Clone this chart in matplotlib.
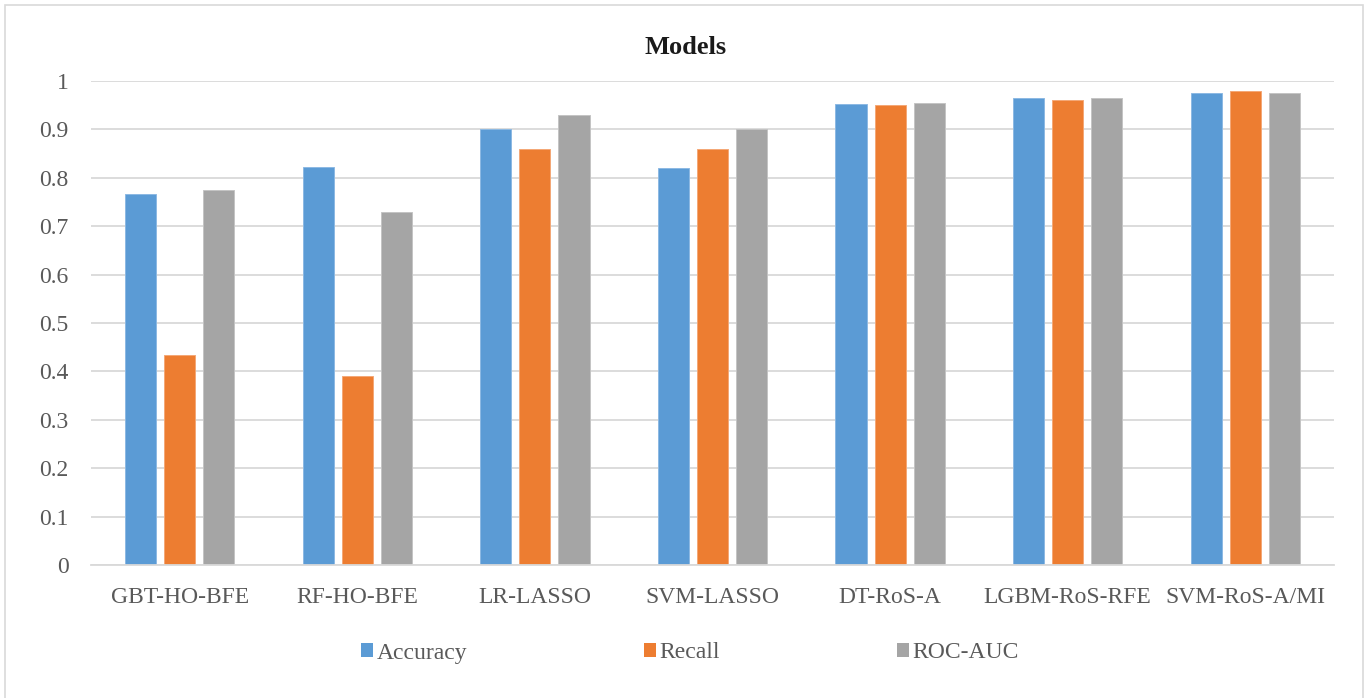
import matplotlib.pyplot as plt
import numpy as np
from matplotlib.patches import Rectangle

plt.rcParams["font.family"] = ["Liberation Serif", "DejaVu Serif"]

models = ["GBT-HO-BFE", "RF-HO-BFE", "LR-LASSO", "SVM-LASSO",
          "DT-RoS-A", "LGBM-RoS-RFE", "SVM-RoS-A/MI"]
accuracy = [0.767, 0.822, 0.900, 0.820, 0.952, 0.964, 0.976]
recall = [0.434, 0.391, 0.860, 0.860, 0.950, 0.960, 0.980]
roc_auc = [0.774, 0.730, 0.930, 0.900, 0.954, 0.965, 0.975]

series = [("Accuracy", accuracy, "#5B9BD5", "#8DB9E3"),
          ("Recall", recall, "#ED7D31", "#F4A876"),
          ("ROC-AUC", roc_auc, "#A5A5A5", "#C4C4C4")]

text_color = "#595959"
grid_color = "#D9D9D9"

fig = plt.figure(figsize=(13.68, 6.98), dpi=100)
W, H = 1368, 698

# outer chart border (bottom edge runs off the canvas)
fig.patches.append(Rectangle((5 / W, -10 / H), 1358 / W, 703 / H, transform=fig.transFigure,
                             fill=False, edgecolor=grid_color, linewidth=1.2))

ax = fig.add_axes([91 / W, (H - 565) / H, (1334 - 91) / W, (565 - 81) / H])

x = np.arange(len(models))
bar_w = 0.175
step = 0.22
for i, (name, vals, color, edge) in enumerate(series):
    ax.bar(x + (i - 1) * step, vals, width=bar_w, color=color, edgecolor=edge,
           linewidth=0.7, label=name, zorder=3)

ax.set_xlim(-0.5, len(models) - 0.5)
ax.set_ylim(0, 1)
ax.set_yticks(np.arange(0, 1.01, 0.1))
ax.set_yticklabels(["0", "0.1", "0.2", "0.3", "0.4", "0.5", "0.6", "0.7", "0.8", "0.9", "1"])
ax.set_xticks(x)
ax.set_xticklabels(models)
ax.tick_params(axis="both", length=0, labelsize=17, colors=text_color)
ax.tick_params(axis="x", pad=16)
ax.tick_params(axis="y", pad=16)
ax.grid(axis="y", color=grid_color, linewidth=1.3, zorder=0)
for side in ["top", "right", "left"]:
    ax.spines[side].set_visible(False)
ax.spines["bottom"].set_color(grid_color)
ax.spines["bottom"].set_linewidth(1.3)
ax.spines["bottom"].set_zorder(4)

fig.text(686 / W, 1 - 47 / H, "Models", ha="center", va="center",
         fontsize=19, fontweight="bold", color="#1a1a1a")

leg = fig.legend(loc="center", bbox_to_anchor=(690 / W, 1 - 653 / H), ncol=3,
                 frameon=False, fontsize=17, handlelength=0.5, handleheight=0.5,
                 handletextpad=0.15, columnspacing=7.5, borderaxespad=0)
for t in leg.get_texts():
    t.set_color(text_color)
for p in leg.get_patches():
    p.set_linewidth(0)

fig.savefig("out.png", dpi=100)
